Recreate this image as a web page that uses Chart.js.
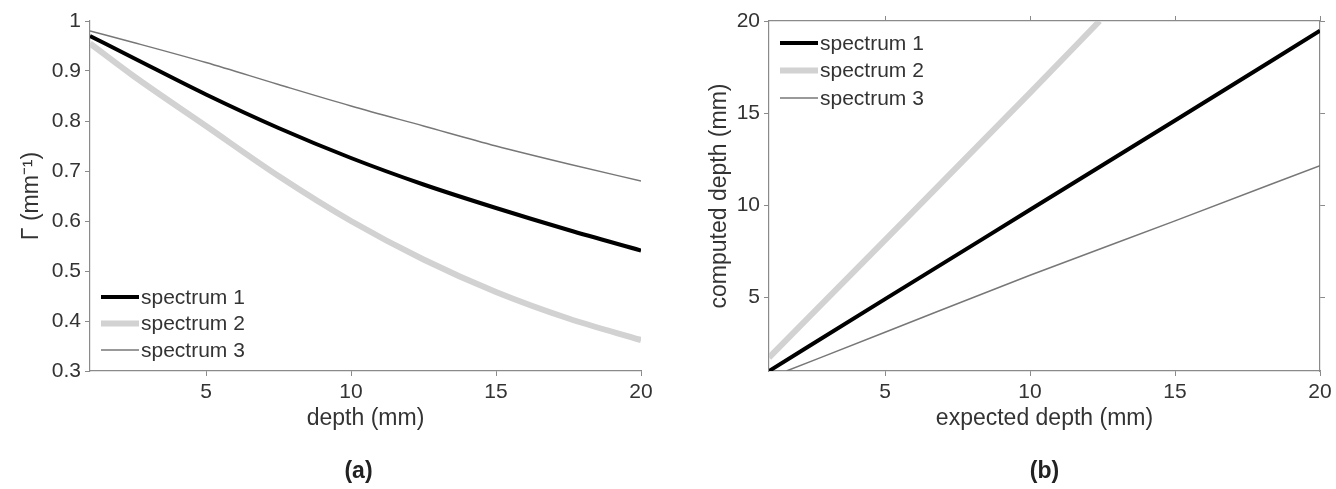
<!DOCTYPE html>
<html>
<head>
<meta charset="utf-8">
<script src="https://cdn.jsdelivr.net/npm/chart.js@4.4.1/dist/chart.umd.min.js"></script>
<style>
  body { margin: 0; background: #fff; }
  canvas { position: absolute; top: 0; }
  #chartA { left: 0; }
  #chartB { left: 680px; }
</style>
</head>
<body>
<canvas id="chartA" width="668" height="489"></canvas>
<canvas id="chartB" width="656" height="489"></canvas>
<script>
// (a) attenuation vs depth
const depthA = [1, 2.5, 5, 7.5, 10, 12.5, 15, 17.5, 20];
const gammaS1 = [0.97, 0.926, 0.853, 0.786, 0.726, 0.673, 0.626, 0.582, 0.541];
const gammaS2 = [0.955, 0.89, 0.79, 0.69, 0.6, 0.523, 0.458, 0.405, 0.362];
const gammaS3 = [0.98, 0.957, 0.917, 0.873, 0.83, 0.79, 0.75, 0.714, 0.68];
const ticksAx = [5, 10, 15, 20];
const ticksAy = [0.3, 0.4, 0.5, 0.6, 0.7, 0.8, 0.9, 1];

// (b) computed vs expected depth
const expS1 = [1, 5, 10, 15, 20];
const compS1 = [1.0, 4.9, 9.75, 14.6, 19.47];
const expS2 = [1, 5, 10, 12.4];
const compS2 = [1.73, 8.1, 16.1, 20];
const expS3 = [1.6, 5, 10, 15, 20];
const compS3 = [1.0, 3.1, 6.2, 9.15, 12.15];
const ticksBx = [5, 10, 15, 20];
const ticksBy = [5, 10, 15, 20];

const labels = ["spectrum 1", "spectrum 2", "spectrum 3"];

const textColor = "#333";
const axisColor = "#8a8a8a";
const tickFont = { family: "Liberation Sans, Arial, sans-serif", size: 21 };
const titleFont = { family: "Liberation Sans, Arial, sans-serif", size: 23 };

const pts = (xs, ys) => xs.map((x, i) => ({ x: x, y: ys[i] }));

const lineStyles = [
  { borderColor: "#000", borderWidth: 4 },
  { borderColor: "#d2d2d2", borderWidth: 6 },
  { borderColor: "#777", borderWidth: 1.5 },
];

const makeSets = (series) =>
  series.map((d, i) => ({
    label: labels[i],
    data: d,
    borderColor: lineStyles[i].borderColor,
    borderWidth: lineStyles[i].borderWidth,
    pointRadius: 0,
    fill: false,
    cubicInterpolationMode: "monotone",
    order: i == 1 ? 3 : i,
  }));

// legend drawn inside the plot, matlab style
const insideLegend = {
  id: "insideLegend",
  afterDatasetsDraw(chart, args, opts) {
    const ctx = chart.ctx;
    const area = chart.chartArea;
    const sets = chart.data.datasets;
    ctx.save();
    ctx.font = "21px Liberation Sans, Arial, sans-serif";
    ctx.textBaseline = "middle";
    ctx.fillStyle = textColor;
    sets.forEach((ds, i) => {
      let y;
      if (opts.anchor == "bottom") {
        y = area.bottom - opts.offset - (sets.length - 1 - i) * opts.gap;
      } else {
        y = area.top + opts.offset + i * opts.gap;
      }
      const x0 = area.left + 11;
      ctx.strokeStyle = ds.borderColor;
      ctx.lineWidth = ds.borderWidth;
      ctx.beginPath();
      ctx.moveTo(x0, y);
      ctx.lineTo(x0 + 38, y);
      ctx.stroke();
      ctx.fillText(ds.label, x0 + 40, y + 1);
    });
    ctx.restore();
  },
  afterDraw(chart, args, opts) {
    const ctx = chart.ctx;
    const area = chart.chartArea;
    ctx.save();
    ctx.font = "bold 23px Liberation Sans, Arial, sans-serif";
    ctx.textAlign = "center";
    ctx.textBaseline = "middle";
    ctx.fillStyle = "#222";
    ctx.fillText(opts.panel, (area.left + area.right) / 2 + opts.shift, 472);
    ctx.restore();
  },
};

const axis = (min, max, ticks, title, titlePad, fitSize, fmt) => ({
  type: "linear",
  min: min,
  max: max,
  afterBuildTicks: (s) => {
    s.ticks = ticks.map((v) => ({ value: v }));
  },
  afterFit: (s) => {
    if (s.isHorizontal()) s.height = fitSize;
    else s.width = fitSize;
  },
  grid: { drawOnChartArea: false, color: axisColor, tickLength: 5 },
  border: { color: axisColor, width: 1.2 },
  ticks: {
    color: textColor,
    font: tickFont,
    padding: 4,
    maxRotation: 0,
    callback: fmt || ((v) => String(v)),
  },
  title: {
    display: true,
    text: title,
    color: textColor,
    font: titleFont,
    padding: titlePad,
  },
});

const boxAxis = (pos, min, max, ticks) => ({
  type: "linear",
  position: pos,
  min: min,
  max: max,
  afterBuildTicks: (s) => {
    s.ticks = ticks.map((v) => ({ value: v }));
  },
  afterFit: (s) => {
    if (s.isHorizontal()) s.height = 5;
    else s.width = 5;
  },
  grid: { drawOnChartArea: false, color: axisColor, tickLength: 5 },
  border: { color: axisColor, width: 1.2 },
  ticks: { display: false },
});

new Chart(document.getElementById("chartA"), {
  type: "line",
  data: {
    datasets: makeSets([
      pts(depthA, gammaS1),
      pts(depthA, gammaS2),
      pts(depthA, gammaS3),
    ]),
  },
  options: {
    responsive: false,
    animation: false,
    layout: { padding: { left: 0, right: 27, top: 21, bottom: 57 } },
    plugins: {
      legend: { display: false },
      tooltip: { enabled: false },
      insideLegend: { anchor: "bottom", offset: 21, gap: 26.5, panel: "(a)", shift: -7 },
    },
    scales: {
      x: axis(1, 20, ticksAx, "depth (mm)", { top: 0, bottom: 0 }, 61),
      y: axis(0.3, 1, ticksAy, "\u0393 (mm\u207B\u00B9)", { top: 18, bottom: 0 }, 90),
    },
  },
  plugins: [insideLegend],
});

new Chart(document.getElementById("chartB"), {
  type: "line",
  data: {
    datasets: makeSets([
      pts(expS1, compS1),
      pts(expS2, compS2),
      pts(expS3, compS3),
    ]),
  },
  options: {
    responsive: false,
    animation: false,
    layout: { padding: { left: 0, right: 11, top: 16, bottom: 57 } },
    plugins: {
      legend: { display: false },
      tooltip: { enabled: false },
      insideLegend: { anchor: "top", offset: 22, gap: 27.5, panel: "(b)", shift: 0 },
    },
    scales: {
      x: axis(1, 20, ticksBx, "expected depth (mm)", { top: 0, bottom: 0 }, 61),
      y: axis(1, 20, ticksBy, "computed depth (mm)", { top: 26, bottom: 0 }, 89),
      x2: boxAxis("top", 1, 20, ticksBx),
      y2: boxAxis("right", 1, 20, ticksBy),
    },
  },
  plugins: [insideLegend],
});
</script>
</body>
</html>
